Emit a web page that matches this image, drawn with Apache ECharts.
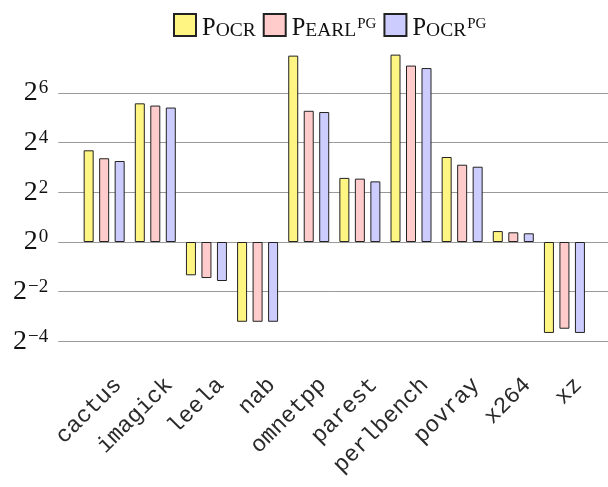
<!DOCTYPE html>
<html>
<head>
<meta charset="utf-8">
<script src="https://cdn.jsdelivr.net/npm/echarts@6/dist/echarts.min.js"></script>
<style>
  html, body { margin: 0; padding: 0; background: #fff; }
  #chart { width: 608px; height: 487px; }
</style>
</head>
<body>
<div id="chart"></div>
<script>
// Benchmarks on the x axis
const categories = ['cactus', 'imagick', 'leela', 'nab', 'omnetpp', 'parest', 'perlbench', 'povray', 'x264', 'xz'];
// log2 of the speedup of each configuration
const pocr    = [3.69, 5.58, -1.34, -3.21, 7.50, 2.58, 7.54, 3.42, 0.44, -3.66];
const pearlPG = [3.37, 5.49, -1.45, -3.21, 5.28, 2.55, 7.10, 3.11, 0.39, -3.49];
const pocrPG  = [3.26, 5.41, -1.57, -3.21, 5.23, 2.44, 7.00, 3.03, 0.35, -3.66];
// exponents shown on the y axis (2^n)
const yTickMin = -4, yTickMax = 6, yTickStep = 2;

const serif = '"Liberation Serif", "DejaVu Serif", serif';
const mono = '"Liberation Mono", "DejaVu Sans Mono", monospace';

// shared vertical scale: px per log2 unit
const zeroY = 242, unit = 24.85;
const barTopExp = 8;
const plotLeft = 58.3, catLeft = 78.6, catWidth = 511.4;

const chart = echarts.init(document.getElementById('chart'), null, { renderer: 'canvas' });

const legendText = {
  Pocr: '{c|P}{s|OCR}',
  PearlPG: '{c|P}{s|EARL}{p|PG}',
  PocrPG: '{c|P}{s|OCR}{p|PG}'
};

function expLabel(v) {
  const e = v < 0 ? '\u2212' + (-v) : String(v);
  return '{b|2}{e|' + e + '}';
}

const barStyle = (color) => ({ color: color, borderColor: '#222', borderWidth: 1 });

chart.setOption({
  animation: false,
  backgroundColor: '#fff',
  legend: {
    left: 168,
    top: 8,
    itemWidth: 22,
    itemHeight: 22,
    itemGap: 7,
    icon: 'rect',
    data: ['Pocr', 'PearlPG', 'PocrPG'],
    formatter: (name) => legendText[name],
    textStyle: {
      padding: [8, 0, 0, 1],
      rich: {
        c: { fontFamily: serif, fontSize: 24.5, color: '#111', verticalAlign: 'bottom', lineHeight: 24 },
        s: { fontFamily: serif, fontSize: 19.5, color: '#111', verticalAlign: 'bottom', lineHeight: 24 },
        p: { fontFamily: serif, fontSize: 15, color: '#111', verticalAlign: 'top', lineHeight: 24, padding: [0, 0, 12, 1] }
      }
    }
  },
  grid: [
    // gridlines and y labels
    { left: plotLeft, width: 560, top: zeroY - yTickMax * unit, height: (yTickMax - yTickMin) * unit },
    // bars
    { left: catLeft, width: catWidth, top: zeroY - barTopExp * unit, height: (barTopExp - yTickMin) * unit },
    // category labels
    { left: catLeft + 14, width: catWidth, top: zeroY - barTopExp * unit, height: (barTopExp - yTickMin) * unit }
  ],
  xAxis: [
    { gridIndex: 0, type: 'value', min: 0, max: 1, show: false },
    { gridIndex: 1, type: 'category', data: categories, axisLine: { show: false }, axisTick: { show: false }, axisLabel: { show: false } },
    {
      gridIndex: 2, type: 'category', data: categories,
      axisLine: { show: false }, axisTick: { show: false },
      axisLabel: { interval: 0, rotate: 45, margin: 40, fontFamily: mono, fontSize: 23, color: '#2a2a2a' }
    }
  ],
  yAxis: [
    {
      gridIndex: 0, type: 'value', min: yTickMin, max: yTickMax, interval: yTickStep,
      axisLine: { show: false }, axisTick: { show: false },
      splitLine: { show: true, lineStyle: { color: '#999', width: 1 } },
      axisLabel: {
        margin: 10,
        formatter: expLabel,
        rich: {
          b: { fontFamily: serif, fontSize: 28, color: '#111', lineHeight: 28, verticalAlign: 'bottom' },
          e: { fontFamily: serif, fontSize: 19, color: '#111', lineHeight: 28, verticalAlign: 'top', padding: [0, 0, 0, 1] }
        }
      }
    },
    { gridIndex: 1, type: 'value', min: yTickMin, max: barTopExp, show: false, splitLine: { show: false } },
    { gridIndex: 2, type: 'value', min: yTickMin, max: barTopExp, show: false, splitLine: { show: false } }
  ],
  series: [
    { name: 'Pocr', type: 'bar', xAxisIndex: 1, yAxisIndex: 1, data: pocr, barWidth: 10, barGap: '55%', itemStyle: barStyle('#fff582') },
    { name: 'PearlPG', type: 'bar', xAxisIndex: 1, yAxisIndex: 1, data: pearlPG, barWidth: 10, barGap: '55%', itemStyle: barStyle('#ffcccb') },
    { name: 'PocrPG', type: 'bar', xAxisIndex: 1, yAxisIndex: 1, data: pocrPG, barWidth: 10, barGap: '55%', itemStyle: barStyle('#ccccfe') }
  ]
});
</script>
</body>
</html>
